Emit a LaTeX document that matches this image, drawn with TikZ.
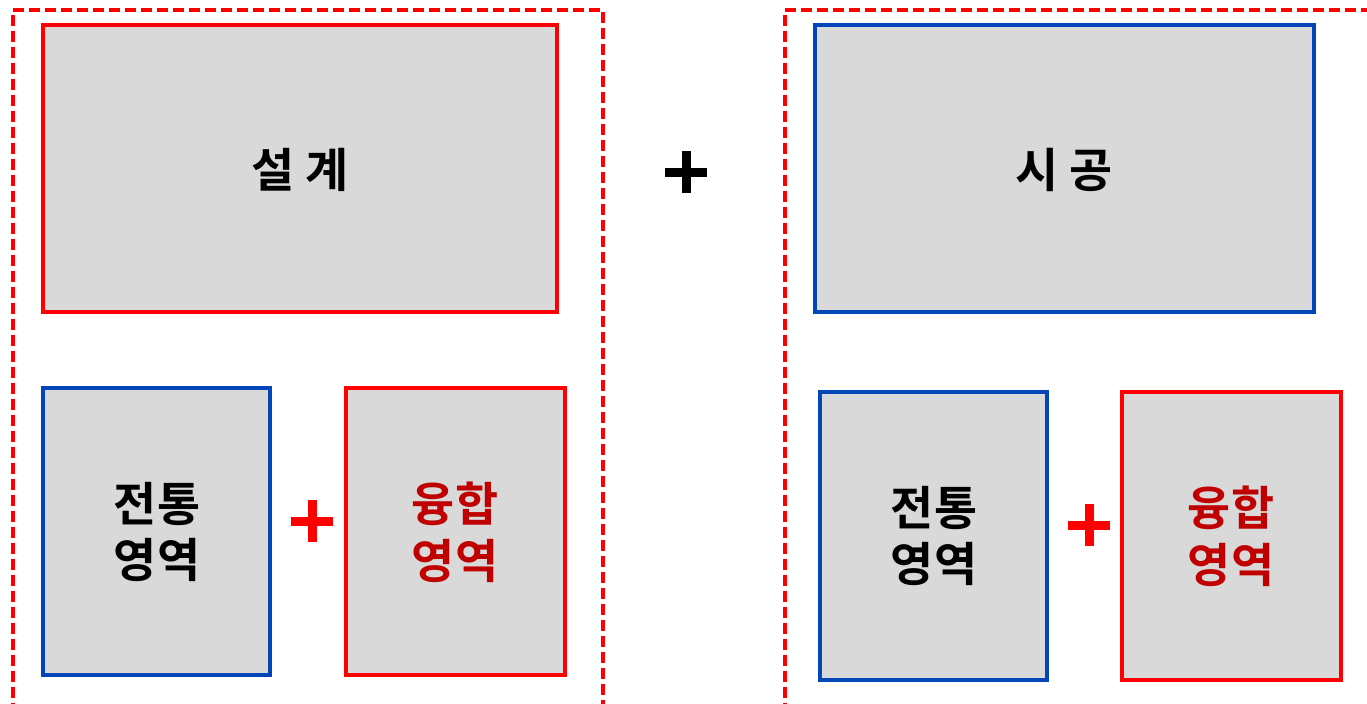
\documentclass[tikz,border=0pt]{standalone}
\usepackage{fontspec}
\setmainfont{Noto Sans CJK KR}[BoldFont={Noto Sans CJK KR Bold}]
\definecolor{boxred}{RGB}{255,0,0}
\definecolor{boxblue}{RGB}{0,70,185}
\definecolor{boxfill}{RGB}{217,217,217}
\definecolor{darkred}{RGB}{192,0,0}
\tikzset{
  panel/.style={draw=boxred, line width=3.5bp, dash pattern=on 11bp off 5bp},
  redbox/.style={draw=boxred, fill=boxfill, line width=3.5bp},
  bluebox/.style={draw=boxblue, fill=boxfill, line width=3.5bp},
  lbl/.style={font=\fontsize{47}{57}\selectfont\bfseries, align=center, text=black},
  fusion/.style={lbl, text=darkred},
  plusbar/.style={line width=9bp}
}
\begin{document}
\begin{tikzpicture}[x=1bp,y=-1bp]
\useasboundingbox (0,0) rectangle (1367,703);
% dashed panels
\draw[panel] (13,730) -- (13,10) -- (603,10) -- (603,730);
\draw[panel] (785,730) -- (785,10) -- (1400,10);
% top boxes
\draw[redbox] (43,25) rectangle (557,312);
\node[lbl] (design) at (300,170) {설 계};
\draw[bluebox] (815,25) rectangle (1314,312);
\node[lbl] (build) at (1064,170) {시 공};
% bottom left
\draw[bluebox] (43,388) rectangle (270,675);
\node[lbl] (tradL) at (157,532) {전통\\영역};
\draw[redbox] (346,388) rectangle (565,675);
\node[fusion] (fuseL) at (455,532) {융합\\영역};
% bottom right
\draw[bluebox] (820,392) rectangle (1047,680);
\node[lbl] (tradR) at (934,536) {전통\\영역};
\draw[redbox] (1122,392) rectangle (1341,680);
\node[fusion] (fuseR) at (1231,536) {융합\\영역};
% plus signs
\coordinate (pc) at (686,172);
\draw[plusbar, black] ([xshift=-21bp]pc) -- ([xshift=21bp]pc) ([yshift=-21bp]pc) -- ([yshift=21bp]pc);
\coordinate (pl) at (312,521);
\draw[plusbar, boxred] ([xshift=-21bp]pl) -- ([xshift=21bp]pl) ([yshift=-21bp]pl) -- ([yshift=21bp]pl);
\coordinate (pr) at (1089,525);
\draw[plusbar, boxred] ([xshift=-21bp]pr) -- ([xshift=21bp]pr) ([yshift=-21bp]pr) -- ([yshift=21bp]pr);
\end{tikzpicture}
\end{document}
